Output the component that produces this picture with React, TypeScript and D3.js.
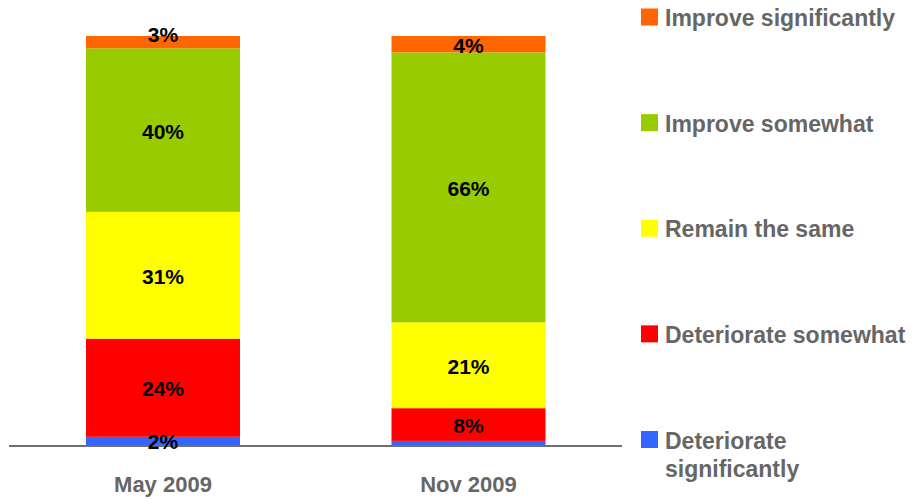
import React from "react";
import * as d3 from "d3";

const categories = ["May 2009", "Nov 2009"];
const seriesNames = [
  "Deteriorate significantly",
  "Deteriorate somewhat",
  "Remain the same",
  "Improve somewhat",
  "Improve significantly",
];
const colors = ["#3366FF", "#FF0000", "#FFFF00", "#99CC00", "#FF6600"];
const detSig = [2, 1];
const detSome = [24, 8];
const remain = [31, 21];
const impSome = [40, 66];
const impSig = [3, 4];
const showLabel = [
  [true, false],
  [true, true],
  [true, true],
  [true, true],
  [true, true],
];
const legendOrder = [4, 3, 2, 1, 0];
const legendLines: string[][] = [
  ["Improve significantly"],
  ["Improve somewhat"],
  ["Remain the same"],
  ["Deteriorate somewhat"],
  ["Deteriorate", "significantly"],
];

const W = 912;
const H = 499;
const FONT = "Liberation Sans, Arial, sans-serif";

export default function App() {
  const series = [detSig, detSome, remain, impSome, impSig];
  const data = categories.map((c, i) => {
    const o: any = { cat: c };
    seriesNames.forEach((s, k) => (o[s] = series[k][i]));
    return o;
  });
  const stacked = d3.stack().keys(seriesNames)(data);

  const x = d3.scalePoint().domain(categories).range([163, 468.5]);
  const bandW = 154;
  const y = d3.scaleLinear().domain([0, 100]).range([445, 36]);

  const legendY = d3.scaleLinear().domain([0, 4]).range([17, 439.5]);

  return (
    <svg width={W} height={H} style={{ position: "absolute", left: 0, top: 0 }}>
      <rect width={W} height={H} fill="#fff" />
      {stacked.map((layer, k) =>
        layer.map((d, i) => (
          <rect
            key={`${k}-${i}`}
            x={(x(categories[i]) as number) - bandW / 2}
            width={bandW}
            y={y(d[1])}
            height={y(d[0]) - y(d[1])}
            fill={colors[k]}
          />
        ))
      )}
      <line x1={9} x2={622} y1={446} y2={446} stroke="#707070" strokeWidth={2} />
      {stacked.map((layer, k) =>
        layer.map((d, i) =>
          showLabel[k][i] ? (
            <text
              key={`l-${k}-${i}`}
              x={x(categories[i]) as number}
              y={(y(d[0]) + y(d[1])) / 2 + (k === 4 && i === 0 ? -9 : 0) + 1}
              textAnchor="middle"
              dominantBaseline="central"
              fontFamily={FONT}
              fontWeight="bold"
              fontSize={21}
              fill="#000"
            >
              {series[k][i]}%
            </text>
          ) : null
        )
      )}
      {categories.map((c, i) => (
        <text
          key={c}
          x={(x(c) as number)}
          y={484}
          textAnchor="middle"
          dominantBaseline="central"
          fontFamily={FONT}
          fontWeight="bold"
          fontSize={22}
          fill="#666"
        >
          {c}
        </text>
      ))}
      {legendOrder.map((k, j) => (
        <g key={`lg-${k}`}>
          <rect x={641} y={legendY(j) - 8.5} width={17} height={17} fill={colors[k]} />
          {legendLines[j].map((line, li) => (
            <text
              key={li}
              x={665}
              y={legendY(j) + li * 28 + 1}
              dominantBaseline="central"
              fontFamily={FONT}
              fontWeight="bold"
              fontSize={23}
              fill="#666"
            >
              {line}
            </text>
          ))}
        </g>
      ))}
    </svg>
  );
}
